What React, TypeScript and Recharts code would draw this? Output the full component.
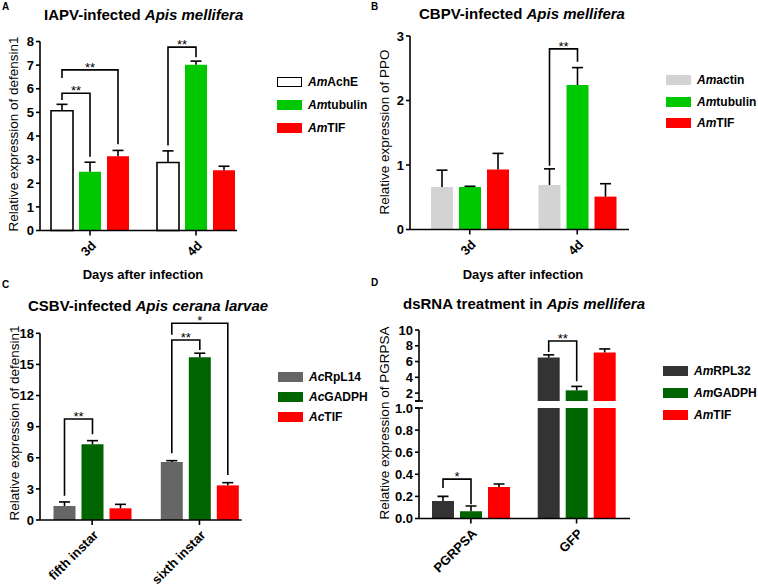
import React from 'react';
import { BarChart, Bar, XAxis, YAxis } from 'recharts';

const FONT = '"Liberation Sans", Arial, Helvetica, sans-serif';
const BAR_SIZE = 22;
const BAR_GAP = 6;
const LINE_W = 1.6;
const Y_TICK = 4;
const Y_MARGIN = 2;

// ---- A: IAPV-infected Apis mellifera, defensin1
const daysA = ['3d', '4d'];
const amAchE = [5.07, 2.88];
const amAchEErr = [0.27, 0.49];
const amTubulinA = [2.49, 7.02];
const amTubulinAErr = [0.4, 0.15];
const amTifA = [3.14, 2.55];
const amTifAErr = [0.25, 0.17];
const ticksA = [0, 1, 2, 3, 4, 5, 6, 7, 8];

// ---- B: CBPV-infected Apis mellifera, PPO
const daysB = ['3d', '4d'];
const amActin = [0.66, 0.69];
const amActinErr = [0.26, 0.25];
const amTubulinB = [0.66, 2.24];
const amTubulinBErr = [0.01, 0.27];
const amTifB = [0.93, 0.51];
const amTifBErr = [0.25, 0.2];
const ticksB = [0, 1, 2, 3];

// ---- C: CSBV-infected Apis cerana larvae, defensin1
const instars = ['fifth instar', 'sixth instar'];
const acRpl14 = [1.35, 5.6];
const acRpl14Err = [0.39, 0.12];
const acGadph = [7.3, 15.7];
const acGadphErr = [0.35, 0.38];
const acTif = [1.13, 3.34];
const acTifErr = [0.38, 0.26];
const ticksC = [0, 3, 6, 9, 12, 15, 18];

// ---- D: dsRNA treatment in Apis mellifera, PGRPSA (broken axis)
const dsRna = ['PGRPSA', 'GFP'];
const amRpl32 = [0.159, 6.5];
const amRpl32Err = [0.041, 0.35];
const amGadph = [0.066, 2.35];
const amGadphErr = [0.047, 0.5];
const amTifD = [0.284, 7.15];
const amTifDErr = [0.028, 0.45];
const ticksDLow = [0, 0.2, 0.4, 0.6, 0.8, 1];
const ticksDHigh = [1, 2, 4, 6, 8, 10];

type Bracket = { cat: string; from: number; to: number; y: number; leftEnd: number; rightEnd: number; text: string };

const bracketsA: Bracket[] = [
  { cat: '3d', from: 0, to: 1, y: 5.81, leftEnd: 5.52, rightEnd: 3.12, text: '**' },
  { cat: '3d', from: 0, to: 2, y: 6.8, leftEnd: 6.45, rightEnd: 3.65, text: '**' },
  { cat: '4d', from: 0, to: 1, y: 7.76, leftEnd: 3.6, rightEnd: 7.33, text: '**' },
];
const bracketsB: Bracket[] = [
  { cat: '4d', from: 0, to: 1, y: 2.8, leftEnd: 0.99, rightEnd: 2.6, text: '**' },
];
const bracketsC: Bracket[] = [
  { cat: 'fifth instar', from: 0, to: 1, y: 9.74, leftEnd: 2.35, rightEnd: 8.26, text: '**' },
  { cat: 'sixth instar', from: 0, to: 1, y: 17.36, leftEnd: 6.43, rightEnd: 16.4, text: '**' },
  { cat: 'sixth instar', from: 0, to: 2, y: 18.97, leftEnd: 17.85, rightEnd: 4.34, text: '*' },
];
const bracketsD: Bracket[] = [
  { cat: 'PGRPSA', from: 0, to: 1, y: 0.356, leftEnd: 0.275, rightEnd: 0.13, text: '*' },
  { cat: 'GFP', from: 0, to: 1, y: 8.6, leftEnd: 7.2, rightEnd: 3.5, text: '**' },
];

type Row = Record<string, string | number>;

const toRows = (cats: string[], vals: number[][], errs: number[][]): Row[] =>
  cats.map((cat, i) => {
    const row: Row = { cat };
    vals.forEach((v, s) => {
      row[`v${s}`] = v[i];
      row[`e${s}`] = errs[s][i];
    });
    return row;
  });

const rowsA = toRows(daysA, [amAchE, amTubulinA, amTifA], [amAchEErr, amTubulinAErr, amTifAErr]);
const rowsB = toRows(daysB, [amActin, amTubulinB, amTifB], [amActinErr, amTubulinBErr, amTifBErr]);
const rowsC = toRows(instars, [acRpl14, acGadph, acTif], [acRpl14Err, acGadphErr, acTifErr]);
const rowsD = toRows(dsRna, [amRpl32, amGadph, amTifD], [amRpl32Err, amGadphErr, amTifDErr]);

// error bar (upper only) + significance brackets, drawn on the stacked "error" segment
const makeErrShape = (idx: number, domain: [number, number], brackets: Bracket[]) => (props: any) => {
  const { x, y, width, height, payload } = props;
  const v = payload[`v${idx}`] as number;
  const e = payload[`e${idx}`] as number;
  if (v < domain[0] || v + e > domain[1]) return <g />;
  const cx = x + width / 2;
  const k = e > 0 ? height / e : 0;
  const toY = (val: number) => y - (val - (v + e)) * k;
  const mine = brackets.filter(
    (b) => b.cat === payload.cat && b.to === idx && b.rightEnd >= domain[0] && b.rightEnd <= domain[1]
  );
  return (
    <g>
      <line x1={cx} x2={cx} y1={y + height} y2={y} stroke="#000" strokeWidth={LINE_W} />
      <line x1={cx - 5.5} x2={cx + 5.5} y1={y} y2={y} stroke="#000" strokeWidth={LINE_W} />
      {mine.map((b, i) => {
        const lx = cx - (idx - b.from) * (width + BAR_GAP);
        const by = toY(b.y);
        return (
          <g key={i}>
            <path
              d={`M${lx},${toY(b.leftEnd)}V${by}H${cx}V${toY(b.rightEnd)}`}
              fill="none"
              stroke="#000"
              strokeWidth={LINE_W}
            />
            <text x={(lx + cx) / 2} y={by + 2} textAnchor="middle" fontSize={13} fontFamily={FONT} fill="#000">
              {b.text}
            </text>
          </g>
        );
      })}
    </g>
  );
};

// slanted category labels, rotated about the tick point
const XTick = (props: any) => {
  const { x, y, payload } = props;
  return (
    <g transform={`translate(${x},${y + 2}) rotate(-45)`}>
      <text x={0} y={0} dy="0.75em" textAnchor="end" fontSize={13} fontWeight="bold" fontFamily={FONT} fill="#000">
        {payload.value}
      </text>
    </g>
  );
};

const YTick = (props: any) => {
  const { x, y, payload, fmt, stubAt, hideAt } = props;
  const ax = x + Y_TICK + Y_MARGIN;
  const val = payload.value as number;
  return (
    <g>
      {stubAt === val && <line x1={ax - Y_TICK} x2={ax + Y_TICK} y1={y} y2={y} stroke="#000" strokeWidth={LINE_W} />}
      {hideAt !== val && (
        <text x={x} y={y} dy="0.36em" textAnchor="end" fontSize={13} fontWeight="bold" fontFamily={FONT} fill="#000">
          {fmt ? fmt(val) : String(val)}
        </text>
      )}
    </g>
  );
};

interface PanelProps {
  left: number;
  top: number;
  width: number;
  height: number;
  margin: { top: number; right: number; bottom: number; left: number };
  rows: Row[];
  colors: string[];
  outlined?: boolean[];
  domain: [number, number];
  ticks: number[];
  yWidth: number;
  xHeight: number;
  pad: { left: number; right: number };
  brackets: Bracket[];
  hideX?: boolean;
  clip?: boolean;
  fmt?: (v: number) => string;
  stubAt?: number;
  hideAt?: number;
}

function Panel(p: PanelProps) {
  const line = { stroke: '#000', strokeWidth: LINE_W };
  return (
    <div style={{ position: 'absolute', left: p.left, top: p.top }}>
      <BarChart width={p.width} height={p.height} data={p.rows} margin={p.margin} barSize={BAR_SIZE} barGap={BAR_GAP}>
        <XAxis
          dataKey="cat"
          hide={p.hideX}
          height={p.xHeight}
          padding={p.pad}
          interval={0}
          axisLine={line}
          tickLine={line}
          tickSize={5}
          tick={<XTick />}
        />
        <YAxis
          type="number"
          domain={p.domain}
          ticks={p.ticks}
          interval={0}
          width={p.yWidth}
          allowDataOverflow={p.clip}
          axisLine={line}
          tickLine={line}
          tickSize={Y_TICK}
          tickMargin={Y_MARGIN}
          tick={<YTick fmt={p.fmt} stubAt={p.stubAt} hideAt={p.hideAt} />}
        />
        {p.colors.map((c, s) => (
          <Bar
            key={`v${s}`}
            dataKey={`v${s}`}
            stackId={`s${s}`}
            fill={c}
            stroke={p.outlined && p.outlined[s] ? '#000' : 'none'}
            strokeWidth={LINE_W}
            isAnimationActive={false}
          />
        ))}
        {p.colors.map((c, s) => (
          <Bar
            key={`e${s}`}
            dataKey={`e${s}`}
            stackId={`s${s}`}
            fill="none"
            isAnimationActive={false}
            shape={makeErrShape(s, p.domain, p.brackets)}
          />
        ))}
      </BarChart>
    </div>
  );
}

const Txt = ({ x, y, size, bold, children }: any) => (
  <div
    style={{
      position: 'absolute',
      left: x,
      top: y - 9,
      height: 18,
      lineHeight: '18px',
      whiteSpace: 'nowrap',
      fontFamily: FONT,
      fontSize: size,
      fontWeight: bold ? 'bold' : 'normal',
      color: '#000',
    }}
  >
    {children}
  </div>
);

const CenterTxt = ({ cx, cy, size, bold, rotate, children }: any) => (
  <div
    style={{
      position: 'absolute',
      left: cx,
      top: cy,
      transform: `translate(-50%,-50%)${rotate ? ' rotate(-90deg)' : ''}`,
      whiteSpace: 'nowrap',
      lineHeight: 1,
      fontFamily: FONT,
      fontSize: size,
      fontWeight: bold ? 'bold' : 'normal',
      color: '#000',
    }}
  >
    {children}
  </div>
);

type LegendItem = { prefix: string; name: string; fill: string; outline?: boolean };

const KeyList = ({ x, y, gap, items }: { x: number; y: number; gap: number; items: LegendItem[] }) => (
  <>
    {items.map((it, i) => (
      <div
        key={it.name}
        style={{ position: 'absolute', left: x, top: y + i * gap - 9, height: 18, display: 'flex', alignItems: 'center' }}
      >
        <span
          style={{
            display: 'inline-block',
            width: 25,
            height: 10,
            background: it.fill,
            border: it.outline ? `${LINE_W}px solid #000` : 'none',
            boxSizing: 'border-box',
          }}
        />
        <span style={{ marginLeft: 6, fontFamily: FONT, fontSize: 12, fontWeight: 'bold', whiteSpace: 'nowrap' }}>
          <i>{it.prefix}</i>
          {it.name}
        </span>
      </div>
    ))}
  </>
);

const colorsA = ['#FFFFFF', '#00C800', '#FF0000'];
const colorsB = ['#D3D3D3', '#00C800', '#FF0000'];
const colorsC = ['#666666', '#006400', '#FF0000'];
const colorsD = ['#333333', '#006400', '#FF0000'];

export default function App() {
  return (
    <div style={{ position: 'absolute', left: 0, top: 0, width: 758, height: 586, background: '#fff', overflow: 'hidden' }}>
      {/* A */}
      <Panel
        left={0}
        top={0}
        width={260}
        height={300}
        margin={{ top: 41.5, right: 23, bottom: 0, left: 0 }}
        rows={rowsA}
        colors={colorsA}
        outlined={[true, false, false]}
        domain={[0, 8]}
        ticks={ticksA}
        yWidth={40}
        xHeight={69.5}
        pad={{ left: -3, right: -12 }}
        brackets={bracketsA}
      />
      {/* B */}
      <Panel
        left={370}
        top={0}
        width={270}
        height={300}
        margin={{ top: 36, right: 11, bottom: 0, left: 0 }}
        rows={rowsB}
        colors={colorsB}
        domain={[0, 3]}
        ticks={ticksB}
        yWidth={40}
        xHeight={70.5}
        pad={{ left: 6, right: -2 }}
        brackets={bracketsB}
      />
      {/* C */}
      <Panel
        left={0}
        top={290}
        width={260}
        height={296}
        margin={{ top: 43.3, right: 18.3, bottom: 0, left: 0 }}
        rows={rowsC}
        colors={colorsC}
        domain={[0, 18]}
        ticks={ticksC}
        yWidth={40}
        xHeight={66}
        pad={{ left: -1.5, right: -11.4 }}
        brackets={bracketsC}
      />
      {/* D, lower segment */}
      <Panel
        left={370}
        top={290}
        width={270}
        height={296}
        margin={{ top: 118, right: 10, bottom: 0, left: 0 }}
        rows={rowsD}
        colors={colorsD}
        domain={[0, 1]}
        ticks={ticksDLow}
        yWidth={49}
        xHeight={67.5}
        pad={{ left: -1, right: 0.6 }}
        brackets={bracketsD}
        clip
        fmt={(v: number) => v.toFixed(1)}
        stubAt={1}
      />
      {/* D, upper segment */}
      <Panel
        left={370}
        top={290}
        width={270}
        height={115}
        margin={{ top: 40, right: 10, bottom: 4, left: 0 }}
        rows={rowsD}
        colors={colorsD}
        domain={[1, 10]}
        ticks={ticksDHigh}
        yWidth={49}
        xHeight={0}
        pad={{ left: -1, right: 0.6 }}
        brackets={bracketsD}
        hideX
        clip
        stubAt={1}
        hideAt={1}
      />

      <Txt x={2} y={7} size={10} bold>A</Txt>
      <Txt x={371} y={7} size={10} bold>B</Txt>
      <Txt x={2} y={285} size={10} bold>C</Txt>
      <Txt x={371} y={283} size={10} bold>D</Txt>

      <Txt x={44} y={15} size={15} bold>
        IAPV-infected <i>Apis mellifera</i>
      </Txt>
      <Txt x={419} y={14} size={15} bold>
        CBPV-infected <i>Apis mellifera</i>
      </Txt>
      <Txt x={28} y={306} size={15} bold>
        CSBV-infected <i>Apis cerana larvae</i>
      </Txt>
      <Txt x={403} y={304} size={15} bold>
        dsRNA treatment in <i>Apis mellifera</i>
      </Txt>

      <CenterTxt cx={13.5} cy={134} size={13.5} rotate>Relative expression of defensin1</CenterTxt>
      <CenterTxt cx={385} cy={132} size={13.5} rotate>Relative expression of PPO</CenterTxt>
      <CenterTxt cx={15} cy={423} size={13.5} rotate>Relative expression of defensin1</CenterTxt>
      <CenterTxt cx={385} cy={423} size={13.5} rotate>Relative expression of PGRPSA</CenterTxt>

      <CenterTxt cx={143} cy={274} size={13} bold>Days after infection</CenterTxt>
      <CenterTxt cx={523} cy={274} size={13} bold>Days after infection</CenterTxt>

      <KeyList
        x={277}
        y={82}
        gap={23}
        items={[
          { prefix: 'Am', name: 'AchE', fill: colorsA[0], outline: true },
          { prefix: 'Am', name: 'tubulin', fill: colorsA[1] },
          { prefix: 'Am', name: 'TIF', fill: colorsA[2] },
        ]}
      />
      <KeyList
        x={666}
        y={80}
        gap={21.5}
        items={[
          { prefix: 'Am', name: 'actin', fill: colorsB[0] },
          { prefix: 'Am', name: 'tubulin', fill: colorsB[1] },
          { prefix: 'Am', name: 'TIF', fill: colorsB[2] },
        ]}
      />
      <KeyList
        x={278}
        y={377}
        gap={20}
        items={[
          { prefix: 'Ac', name: 'RpL14', fill: colorsC[0] },
          { prefix: 'Ac', name: 'GADPH', fill: colorsC[1] },
          { prefix: 'Ac', name: 'TIF', fill: colorsC[2] },
        ]}
      />
      <KeyList
        x={663}
        y={371}
        gap={22}
        items={[
          { prefix: 'Am', name: 'RPL32', fill: colorsD[0] },
          { prefix: 'Am', name: 'GADPH', fill: colorsD[1] },
          { prefix: 'Am', name: 'TIF', fill: colorsD[2] },
        ]}
      />
    </div>
  );
}
